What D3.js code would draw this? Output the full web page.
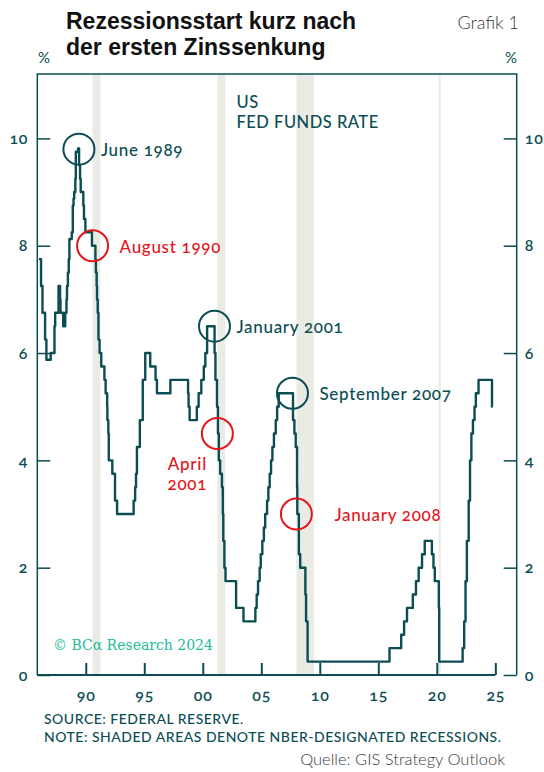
<!DOCTYPE html>
<html>
<head>
<meta charset="utf-8">
<script src="https://cdn.jsdelivr.net/npm/d3@7"></script>
<style>
	body { margin: 0; background: #fff; }
	svg { display: block; }
	.rw { font-family: Lato, "Noto Sans", sans-serif; font-variant-numeric: oldstyle-nums; }
</style>
</head>
<body>
<svg id="chart" width="544" height="772"></svg>
<script>
// fed funds target rate (upper bound), change dates and new levels
const changeDates = [
	'1986-01-01', '1986-03-07', '1986-04-21', '1986-07-11', '1986-08-21',
	'1987-01-02', '1987-04-30', '1987-05-22', '1987-09-04', '1987-10-22', '1987-11-04',
	'1988-01-28', '1988-03-30', '1988-05-09', '1988-05-25', '1988-06-22', '1988-07-19',
	'1988-08-08', '1988-10-20', '1988-11-22', '1988-12-15', '1989-01-05', '1989-02-09',
	'1989-02-24', '1989-05-04', '1989-06-06', '1989-07-07', '1989-07-27', '1989-10-16',
	'1989-11-06', '1989-12-20',
	'1990-07-13', '1990-10-29', '1990-11-13', '1990-12-07', '1990-12-18',
	'1991-01-09', '1991-02-01', '1991-03-08', '1991-04-30', '1991-08-06', '1991-09-13',
	'1991-10-31', '1991-11-06', '1991-12-06', '1991-12-20',
	'1992-04-09', '1992-07-02', '1992-09-04',
	'1994-02-04', '1994-03-22', '1994-04-18', '1994-05-17', '1994-08-16', '1994-11-15',
	'1995-02-01', '1995-07-06', '1995-12-19', '1996-01-31', '1997-03-25',
	'1998-09-29', '1998-10-15', '1998-11-17', '1999-06-30', '1999-08-24', '1999-11-16',
	'2000-02-02', '2000-03-21', '2000-05-16',
	'2001-01-03', '2001-01-31', '2001-03-20', '2001-04-18', '2001-05-15', '2001-06-27',
	'2001-08-21', '2001-09-17', '2001-10-02', '2001-11-06', '2001-12-11',
	'2002-11-06', '2003-06-25',
	'2004-06-30', '2004-08-10', '2004-09-21', '2004-11-10', '2004-12-14',
	'2005-02-02', '2005-03-22', '2005-05-03', '2005-06-30', '2005-08-09', '2005-09-20',
	'2005-11-01', '2005-12-13', '2006-01-31', '2006-03-28', '2006-05-10', '2006-06-29',
	'2007-09-18', '2007-10-31', '2007-12-11',
	'2008-01-22', '2008-01-30', '2008-03-18', '2008-04-30', '2008-10-08', '2008-10-29', '2008-12-16',
	'2015-12-17', '2016-12-15', '2017-03-16', '2017-06-15', '2017-12-14',
	'2018-03-22', '2018-06-14', '2018-09-27', '2018-12-20',
	'2019-08-01', '2019-09-19', '2019-10-31', '2020-03-04', '2020-03-16',
	'2022-03-17', '2022-05-05', '2022-06-16', '2022-07-28', '2022-09-22', '2022-11-03', '2022-12-15',
	'2023-02-02', '2023-03-23', '2023-05-04', '2023-07-27',
	'2024-09-19', '2024-10-01'
]
const changeRates = [
	7.75, 7.25, 6.75, 6.25, 5.875,
	6.0, 6.5, 6.75, 7.25, 7.0, 6.75,
	6.5, 6.75, 7.0, 7.25, 7.5, 7.75,
	8.125, 8.25, 8.75, 8.875, 9.0, 9.25,
	9.75, 9.8125, 9.5, 9.25, 9.0, 8.75,
	8.5, 8.25,
	8.0, 7.75, 7.5, 7.25, 7.0,
	6.75, 6.25, 6.0, 5.75, 5.5, 5.25,
	5.0, 4.75, 4.5, 4.0,
	3.75, 3.25, 3.0,
	3.25, 3.5, 3.75, 4.25, 4.75, 5.5,
	6.0, 5.75, 5.5, 5.25, 5.5,
	5.25, 5.0, 4.75, 5.0, 5.25, 5.5,
	5.75, 6.0, 6.5,
	6.0, 5.5, 5.0, 4.5, 4.0, 3.75,
	3.5, 3.0, 2.5, 2.0, 1.75,
	1.25, 1.0,
	1.25, 1.5, 1.75, 2.0, 2.25,
	2.5, 2.75, 3.0, 3.25, 3.5, 3.75,
	4.0, 4.25, 4.5, 4.75, 5.0, 5.25,
	4.75, 4.5, 4.25,
	3.5, 3.0, 2.25, 2.0, 1.5, 1.0, 0.25,
	0.5, 0.75, 1.0, 1.25, 1.5,
	1.75, 2.0, 2.25, 2.5,
	2.25, 2.0, 1.75, 1.25, 0.25,
	0.5, 1.0, 1.75, 2.5, 3.25, 4.0, 4.5,
	4.75, 5.0, 5.25, 5.5,
	5.0, 5.0
]

// NBER recessions (first month, month after last)
const recessionStart = ['1990-08-01', '2001-04-01', '2008-01-01', '2020-03-01']
const recessionEnd = ['1991-04-01', '2001-12-01', '2009-07-01', '2020-05-01']

const xTickYears = [1990, 1995, 2000, 2005, 2010, 2015, 2020, 2025]
const yTicks = [0, 2, 4, 6, 8, 10]

// highlighted months
const markLabels = ['June 1989', 'August 1990', 'January 2001', 'April|2001', 'September 2007', 'January 2008']
const markDates = ['1989-06-01', '1990-08-01', '2001-01-01', '2001-04-01', '2007-09-01', '2008-01-01']
const markValues = [9.8, 8.0, 6.5, 4.5, 5.25, 3.0]
const markKinds = ['peak', 'cut', 'peak', 'cut', 'peak', 'cut']

const teal = '#0b4d53'
const red = '#e3161c'
const parse = d3.timeParse('%Y-%m-%d')

const svg = d3.select('#chart')
const pLeft = 37.3, pRight = 516.7, pTop = 74, pBottom = 675

const x = d3.scaleTime()
	.domain([new Date(1985, 10, 10), new Date(2026, 9, 30)])
	.range([pLeft, pRight])
const y = d3.scaleLinear()
	.domain([0, 11.2])
	.range([pBottom, pTop])

const rates = changeDates.map((d, i) => ({ date: parse(d), rate: changeRates[i] }))

// recession shading
svg.append('g')
	.selectAll('rect')
	.data(recessionStart.map((d, i) => [parse(d), parse(recessionEnd[i])]))
	.join('rect')
	.attr('x', d => x(d[0]))
	.attr('width', d => x(d[1]) - x(d[0]))
	.attr('y', pTop)
	.attr('height', pBottom - pTop)
	.attr('fill', '#ebebe6')

// frame
svg.append('path')
	.attr('d', `M${pLeft},${pBottom}V${pTop}H${pRight}V${pBottom}`)
	.attr('fill', 'none')
	.attr('stroke', teal)
	.attr('stroke-width', 1.5)

const x25 = x(new Date(2025, 0, 1))
svg.append('line')
	.attr('x1', pLeft).attr('x2', x25)
	.attr('y1', pBottom).attr('y2', pBottom)
	.attr('stroke', teal).attr('stroke-width', 2)

// y axes: ticks inside, labels outside
const yLeft = d3.axisLeft(y).tickValues(yTicks).tickSize(-13).tickPadding(9).tickSizeOuter(0)
const yRight = d3.axisRight(y).tickValues(yTicks).tickSize(-13).tickPadding(8).tickSizeOuter(0)

const tickFont = sel => sel
	.attr('class', 'rw')
	.attr('fill', teal)
	.style('font-size', '16px')
	.style('font-weight', 600)
	.style('letter-spacing', '0.8px')

const styleAxis = g => {
	g.select('.domain').remove()
	g.selectAll('.tick line').attr('stroke', teal).attr('stroke-width', 1.5)
	g.selectAll('.tick text').call(tickFont)
}

svg.append('g').attr('transform', `translate(${pLeft},0)`).call(yLeft).call(styleAxis)
svg.append('g').attr('transform', `translate(${pRight},0)`).call(yRight).call(styleAxis)

const xAxis = d3.axisBottom(x)
	.tickValues(xTickYears.map(yr => new Date(yr, 0, 1)))
	.tickFormat(d3.timeFormat('%y'))
	.tickSize(-12)
	.tickPadding(15)
svg.append('g')
	.attr('transform', `translate(0,${pBottom})`)
	.call(xAxis)
	.call(g => {
		g.select('.domain').remove()
		g.selectAll('.tick line').attr('stroke', teal).attr('stroke-width', 2)
		g.selectAll('.tick text').call(tickFont)
	})

// rate line
const rateLine = d3.line()
	.x(d => x(d.date))
	.y(d => y(d.rate))
	.curve(d3.curveStepAfter)

svg.append('path')
	.datum(rates)
	.attr('d', rateLine)
	.attr('fill', 'none')
	.attr('stroke', teal)
	.attr('stroke-width', 2.4)
	.attr('stroke-linejoin', 'round')

// circles + labels
const labelPos = [
	{ dx: 22, dy: 7 },
	{ dx: 27, dy: 7 },
	{ dx: 22, dy: 7 },
	{ dx: -30, dy: 36, anchor: 'middle' },
	{ dx: 27, dy: 7 },
	{ dx: 38, dy: 7 }
]

markLabels.forEach((lab, i) => {
	const cx = x(parse(markDates[i]))
	const cy = y(markValues[i])
	const col = markKinds[i] === 'peak' ? teal : red
	svg.append('circle')
		.attr('cx', cx).attr('cy', cy).attr('r', 15.5)
		.attr('fill', 'none')
		.attr('stroke', col)
		.attr('stroke-width', 2)
	const t = svg.append('text')
		.attr('class', 'rw')
		.attr('x', cx + labelPos[i].dx)
		.attr('y', cy + labelPos[i].dy)
		.attr('fill', col)
		.attr('text-anchor', labelPos[i].anchor || 'start')
		.style('font-size', '17px')
		.style('font-weight', 500)
		.style('letter-spacing', '0.7px')
	lab.split('|').forEach((part, j) => {
		t.append('tspan')
			.attr('x', cx + labelPos[i].dx)
			.attr('dy', j ? 20 : 0)
			.text(part)
	})
})

// series label
svg.append('text')
	.attr('class', 'rw')
	.attr('x', 236.5).attr('y', 108)
	.attr('fill', teal)
	.style('font-size', '16.5px')
	.style('font-weight', 500)
	.style('letter-spacing', '0.5px')
	.call(t => {
		t.append('tspan').attr('x', 236.5).text('US')
		t.append('tspan').attr('x', 236.5).attr('dy', 20).text('FED FUNDS RATE')
	})

// % units
svg.append('text').attr('class', 'rw').attr('x', 38).attr('y', 63)
	.attr('fill', teal).style('font-size', '15px').text('%')
svg.append('text').attr('class', 'rw').attr('x', 517).attr('y', 63)
	.attr('text-anchor', 'end')
	.attr('fill', teal).style('font-size', '15px').text('%')

// title
svg.append('text')
	.attr('x', 66).attr('y', 29)
	.style('font-family', '"Liberation Sans", Arial, sans-serif')
	.style('font-size', '23px')
	.style('font-weight', 700)
	.attr('fill', '#111')
	.call(t => {
		t.append('tspan').attr('x', 66).text('Rezessionsstart kurz nach')
		t.append('tspan').attr('x', 66).attr('dy', 26).text('der ersten Zinssenkung')
	})

svg.append('text')
	.attr('x', 519).attr('y', 29)
	.attr('text-anchor', 'end')
	.style('font-family', 'Lato, sans-serif')
	.style('font-size', '18px')
	.style('font-weight', 300)
	.attr('fill', '#3a3a3a')
	.text('Grafik 1')

// copyright
svg.append('text')
	.attr('x', 53).attr('y', 650)
	.style('font-family', '"DejaVu Serif", "Liberation Serif", serif')
	.style('font-size', '14px')
	.attr('fill', '#22bd9b')
	.text('© BCα Research 2024')

// footnotes
svg.append('text')
	.attr('class', 'rw')
	.attr('x', 44).attr('y', 724)
	.attr('fill', teal)
	.style('font-size', '14px')
	.style('font-weight', 500)
	.style('letter-spacing', '0.5px')
	.call(t => {
		t.append('tspan').attr('x', 44).text('SOURCE: FEDERAL RESERVE.')
		t.append('tspan').attr('x', 44).attr('dy', 18).text('NOTE: SHADED AREAS DENOTE NBER-DESIGNATED RECESSIONS.')
	})

svg.append('text')
	.attr('x', 505).attr('y', 765)
	.attr('text-anchor', 'end')
	.style('font-family', 'Lato, sans-serif')
	.style('font-size', '16.5px')
	.style('font-weight', 300)
	.attr('fill', '#3a3a3a')
	.text('Quelle: GIS Strategy Outlook')
</script>
</body>
</html>
